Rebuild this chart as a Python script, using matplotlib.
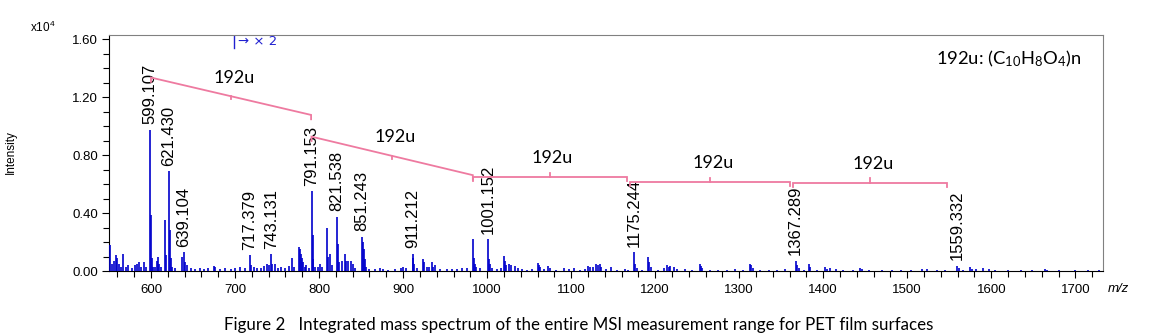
import matplotlib
matplotlib.use("Agg")
import matplotlib.pyplot as plt
from matplotlib.ticker import MultipleLocator, FormatStrFormatter

# Peak list of the integrated spectrum (m/z, intensity in units of 1e4)
peak_mz = [
    551.0, 553.5, 556.0, 558.5, 560.0, 562.0, 564.5, 567.0, 570.0, 573.0,
    577.0, 581.5, 583.5, 585.5, 588.0, 591.5, 594.0,
    599.107, 600.1, 601.1, 602.1, 605.0, 607.5, 608.7, 610.0, 612.0,
    617.0, 618.0, 621.430, 622.4, 623.4, 625.0, 628.0,
    636.5, 639.104, 640.1, 643.0, 647.0, 652.0, 658.0, 663.0, 668.0,
    674.5, 676.0, 682.0, 688.0, 695.0, 700.0, 706.0, 712.0,
    717.379, 719.0, 722.0, 726.0, 731.0, 735.0, 737.5, 740.0,
    743.131, 744.5, 747.0, 751.0, 755.0, 760.0, 764.0, 767.5, 770.0,
    776.6, 777.6, 778.6, 779.6, 781.0, 783.0, 785.0, 788.0,
    791.153, 792.2, 793.2, 795.0, 799.0, 801.0, 804.0,
    809.1, 810.1, 813.0, 815.0, 821.538, 822.5, 823.5, 827.0,
    831.0, 832.0, 835.0, 838.0, 840.0, 843.0,
    851.243, 852.2, 853.2, 854.2, 856.0, 860.0, 866.0, 872.0, 876.0,
    882.0, 890.0, 897.0, 900.0, 903.0,
    911.212, 912.2, 913.2, 916.0, 924.0, 925.2, 928.0, 931.0, 934.0,
    936.0, 938.0, 944.0, 952.0, 958.0, 964.0, 970.0, 976.0,
    983.1, 984.1, 985.1, 987.0, 992.0,
    1001.152, 1002.2, 1003.2, 1006.0, 1012.0, 1016.0,
    1020.6, 1021.6, 1023.0, 1025.5, 1028.0, 1033.0, 1037.0, 1042.0,
    1048.0, 1054.0, 1060.0, 1061.5, 1063.0, 1068.0, 1073.0, 1075.0,
    1082.0, 1091.0, 1097.0, 1103.0, 1110.0, 1116.0, 1120.6, 1122.0,
    1126.0, 1130.0, 1132.0, 1134.0, 1136.0, 1141.0, 1148.0, 1155.0,
    1164.0, 1168.0,
    1175.244, 1176.2, 1178.0, 1184.0, 1192.0, 1193.0, 1195.0, 1203.0,
    1210.0, 1214.0, 1216.0, 1218.0, 1222.0, 1226.0, 1236.0, 1244.0,
    1252.8, 1254.0, 1256.0, 1265.0, 1275.0, 1285.0, 1295.0, 1304.0,
    1313.0, 1314.5, 1317.0, 1325.0, 1335.0, 1345.0, 1355.0,
    1367.289, 1368.3, 1371.0, 1377.0, 1382.5, 1384.0, 1392.0, 1402.0,
    1404.0, 1408.0, 1415.0, 1424.0, 1435.0, 1444.0, 1446.0, 1455.0,
    1470.0, 1482.0, 1493.0, 1505.0, 1517.5, 1524.0, 1535.0, 1545.0,
    1559.332, 1561.0, 1566.0, 1575.0, 1577.0, 1582.0, 1590.0, 1597.0,
    1605.0, 1620.0, 1635.0, 1648.0, 1664.0, 1666.0, 1680.0, 1700.0,
    1715.0, 1728.0,
]
peak_int = [
    0.18, 0.05, 0.07, 0.11, 0.09, 0.05, 0.03, 0.12, 0.03, 0.04,
    0.02, 0.04, 0.05, 0.06, 0.03, 0.06, 0.03,
    0.975, 0.39, 0.09, 0.03, 0.03, 0.07, 0.10, 0.05, 0.03,
    0.35, 0.11, 0.69, 0.28, 0.09, 0.03, 0.02,
    0.10, 0.13, 0.06, 0.04, 0.02, 0.015, 0.02, 0.015, 0.02,
    0.035, 0.025, 0.015, 0.02, 0.015, 0.02, 0.025, 0.02,
    0.11, 0.04, 0.03, 0.02, 0.02, 0.035, 0.05, 0.04,
    0.115, 0.05, 0.05, 0.02, 0.03, 0.02, 0.035, 0.09, 0.03,
    0.165, 0.15, 0.12, 0.09, 0.06, 0.03, 0.04, 0.02,
    0.55, 0.25, 0.08, 0.03, 0.03, 0.05, 0.03,
    0.30, 0.10, 0.12, 0.04, 0.375, 0.19, 0.06, 0.07,
    0.12, 0.07, 0.07, 0.07, 0.05, 0.02,
    0.235, 0.20, 0.15, 0.08, 0.03, 0.015, 0.015, 0.02, 0.015,
    0.01, 0.015, 0.02, 0.03, 0.02,
    0.12, 0.09, 0.05, 0.02, 0.08, 0.06, 0.03, 0.03, 0.06,
    0.03, 0.04, 0.015, 0.015, 0.015, 0.015, 0.02, 0.02,
    0.22, 0.09, 0.05, 0.03, 0.02,
    0.22, 0.08, 0.05, 0.02, 0.015, 0.02,
    0.105, 0.07, 0.04, 0.045, 0.04, 0.035, 0.02, 0.015,
    0.01, 0.015, 0.055, 0.04, 0.025, 0.015, 0.035, 0.02,
    0.01, 0.02, 0.015, 0.02, 0.01, 0.015, 0.035, 0.03,
    0.03, 0.045, 0.04, 0.045, 0.025, 0.015, 0.025, 0.01,
    0.015, 0.01,
    0.13, 0.05, 0.02, 0.01, 0.10, 0.06, 0.03, 0.01,
    0.02, 0.04, 0.025, 0.035, 0.03, 0.015, 0.015, 0.01,
    0.048, 0.035, 0.02, 0.01, 0.01, 0.01, 0.015, 0.01,
    0.05, 0.04, 0.02, 0.01, 0.01, 0.01, 0.015,
    0.07, 0.04, 0.02, 0.01, 0.05, 0.025, 0.01, 0.025,
    0.015, 0.02, 0.015, 0.01, 0.01, 0.02, 0.015, 0.008,
    0.008, 0.008, 0.01, 0.008, 0.015, 0.012, 0.01, 0.008,
    0.035, 0.02, 0.01, 0.025, 0.015, 0.012, 0.02, 0.015,
    0.008, 0.008, 0.008, 0.006, 0.015, 0.01, 0.006, 0.008,
    0.005, 0.005,
]

# Labelled peaks
label_mz = [599.107, 621.430, 639.104, 717.379, 743.131, 791.153, 821.538,
            851.243, 911.212, 1001.152, 1175.244, 1367.289, 1559.332]

# 192 u repeat-unit brackets: start/end m/z and level at each end
bracket_x0 = [600.0, 791.0, 983.0, 1170.0, 1364.0]
bracket_x1 = [790.5, 983.0, 1166.0, 1361.0, 1547.0]
bracket_y0 = [1.336, 0.928, 0.652, 0.617, 0.611]
bracket_y1 = [1.078, 0.662, 0.652, 0.617, 0.611]

SPEC_BLUE = "#0000CC"
PINK = "#EE7AA0"
ARIAL = ["Liberation Sans", "DejaVu Sans"]
CALIBRI = ["Lato", "DejaVu Sans"]

plt.rcParams["font.family"] = ARIAL
plt.rcParams["mathtext.default"] = "regular"

fig = plt.figure(figsize=(11.67, 3.35), dpi=100)
ax = fig.add_axes([0.0934, 0.191, 0.8518, 0.7045])

ax.vlines(peak_mz, 0, peak_int, color=SPEC_BLUE, lw=1.2, zorder=3)

ax.set_xlim(550, 1733)
ax.set_ylim(0, 1.63)

ax.xaxis.set_major_locator(MultipleLocator(100))
ax.xaxis.set_minor_locator(MultipleLocator(20))
ax.yaxis.set_major_locator(MultipleLocator(0.4))
ax.yaxis.set_minor_locator(MultipleLocator(0.1))
ax.yaxis.set_major_formatter(FormatStrFormatter("%.2f"))
ax.tick_params(axis="both", which="major", length=5, width=0.8, labelsize=9.5)
ax.tick_params(axis="both", which="minor", length=4, width=0.8)
ax.tick_params(axis="x", pad=4)
ax.tick_params(axis="y", pad=3)

for side in ("top", "right"):
    ax.spines[side].set_color("#808080")
for side in ("left", "bottom"):
    ax.spines[side].set_color("black")

# peak labels sit just above the top of each labelled peak
heights = dict(zip(peak_mz, peak_int))
for mz in label_mz:
    ax.annotate(f"{mz:.3f}", (mz, heights[mz]), xytext=(0, 4),
                textcoords="offset points", rotation=90, ha="center",
                va="bottom", fontsize=12, zorder=4)

# brackets: line, end hooks and a tick at the midpoint
hook = 0.03
for x0, x1, y0, y1 in zip(bracket_x0, bracket_x1, bracket_y0, bracket_y1):
    ax.plot([x0, x0, x1, x1], [y0 - hook, y0, y1, y1 - hook],
            color=PINK, lw=1.3, zorder=5, solid_joinstyle="miter")
    xm, ym = (x0 + x1) / 2, (y0 + y1) / 2
    tick = -0.02 if y0 != y1 else 0.028
    ax.plot([xm, xm], [ym, ym + tick], color=PINK, lw=1.3, zorder=5)
    ax.annotate("192u", (xm, ym), xytext=(2, 13.5), textcoords="offset points",
                ha="center", va="center", fontsize=13, family=CALIBRI)

ax.text(0.978, 0.90, "192u: (C$_{10}$H$_{8}$O$_{4}$)n", transform=ax.transAxes,
        ha="right", va="center", fontsize=13.2, family=CALIBRI)

# x2 magnification marker
ax.plot([699, 699], [1.54, 1.62], color="#2020D0", lw=1.0, clip_on=False)
ax.text(703, 1.585, "\u2192 \u00d7 2", color="#2020D0", fontsize=9.5,
        ha="left", va="center", family=["DejaVu Sans"])

fig.text(0.026, 0.918, "x10$^{4}$", fontsize=8.5, ha="left", va="center")
fig.text(0.009, 0.545, "Intensity", rotation=90, fontsize=8.5,
         ha="center", va="center")
fig.text(0.958, 0.137, "m/z", fontsize=9.5, style="italic",
         ha="center", va="center")
fig.text(0.496, 0.03, "Figure 2   Integrated mass spectrum of the entire MSI "
         "measurement range for PET film surfaces", fontsize=12.2,
         ha="center", va="center", family=CALIBRI)

fig.savefig("out.png", dpi=100)
